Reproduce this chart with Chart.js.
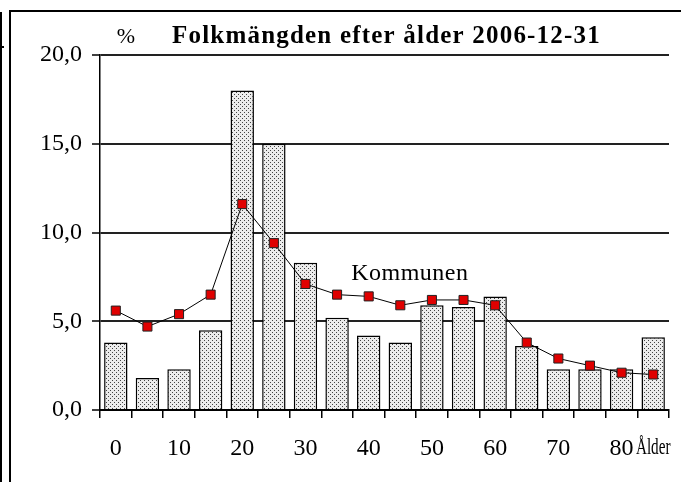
<!DOCTYPE html>
<html>
<head>
<meta charset="utf-8">
<script src="https://cdn.jsdelivr.net/npm/chart.js@4.4.1/dist/chart.umd.min.js"></script>
<style>
  html, body { margin: 0; padding: 0; background: #fff; }
  #wrap { position: relative; width: 681px; height: 482px; overflow: hidden; }
  #frame { position: absolute; left: 9px; top: 10px; width: 700px; height: 500px; border-left: 2px solid #000; border-top: 2px solid #000; }
  #edge { position: absolute; left: 0; top: 12px; width: 2px; height: 470px; background: #000; }
  #stub { position: absolute; left: 0; top: 46px; width: 4px; height: 2px; background: #000; }
  canvas { position: absolute; left: 0; top: 0; }
</style>
</head>
<body>
<div id="wrap">
  <div id="edge"></div>
  <div id="stub"></div>
  <div id="frame"></div>
  <canvas id="myChart" width="681" height="482"></canvas>
</div>
<script>
const ages = ["0", "5", "10", "15", "20", "25", "30", "35", "40", "45", "50", "55", "60", "65", "70", "75", "80", "85"];
const xTickLabels = ["0", "", "10", "", "20", "", "30", "", "40", "", "50", "", "60", "", "70", "", "80", ""];
const yTickLabels = ["0,0", "5,0", "10,0", "15,0", "20,0"];
// bars (riket) and line (kommunen), percent per 5-year age group
const riket = [3.8, 1.8, 2.3, 4.5, 18.0, 15.0, 8.3, 5.2, 4.2, 3.8, 5.9, 5.8, 6.4, 3.6, 2.3, 2.3, 2.3, 4.1];
const kommunen = [5.6, 4.7, 5.4, 6.5, 11.6, 9.4, 7.1, 6.5, 6.4, 5.9, 6.2, 6.2, 5.9, 3.8, 2.9, 2.5, 2.1, 2.0];
const title = "Folkmängden efter ålder 2006-12-31";
const unitLabel = "%";
const lastAxisLabel = "Ålder";

const serif = '"Liberation Serif", "Times New Roman", serif';

function dotPattern() {
  const c = document.createElement('canvas');
  c.width = 4; c.height = 4;
  const g = c.getContext('2d');
  g.fillStyle = '#ececec';
  g.fillRect(0, 0, 4, 4);
  g.fillStyle = '#444';
  g.fillRect(0, 0, 1, 1);
  g.fillRect(2, 2, 1, 1);
  return g.createPattern(c, 'repeat');
}

const texts = {
  id: 'texts',
  afterDraw(chart) {
    const g = chart.ctx, xs = chart.scales.x, ys = chart.scales.y;
    g.save();
    g.fillStyle = '#000';
    g.textBaseline = 'alphabetic';
    g.textAlign = 'center';
    g.font = '22px ' + serif;
    g.fillText(unitLabel, 126, 43);
    g.textAlign = 'left';
    g.font = 'bold 25px ' + serif;
    g.letterSpacing = '1.2px';
    g.fillText(title, 172, 43);
    g.letterSpacing = '0.5px';
    g.textAlign = 'center';
    g.font = '24px ' + serif;
    g.fillText(chart.data.datasets[0].label, xs.getPixelForValue(9.3), ys.getPixelForValue(7.3));
    g.letterSpacing = '0px';
    g.translate(xs.getPixelForValue(17), 454);
    g.scale(0.66, 1);
    g.font = '23px ' + serif;
    g.fillText(lastAxisLabel, 0, 0);
    g.restore();
  }
};

const ctx = document.querySelector("#myChart");

new Chart(ctx, {
  data: {
    labels: ages,
    datasets: [{
      type: 'line',
      label: 'Kommunen',
      data: kommunen,
      borderColor: '#000',
      borderWidth: 1,
      tension: 0,
      pointStyle: 'rect',
      pointRadius: 6.4,
      pointBackgroundColor: '#e00000',
      pointBorderColor: '#222',
      pointBorderWidth: 1,
      order: 0
    }, {
      type: 'bar',
      label: 'Riket',
      data: riket,
      backgroundColor: dotPattern(),
      borderColor: '#000',
      borderWidth: 1.5,
      barPercentage: 0.74,
      categoryPercentage: 1,
      order: 1
    }]
  },
  options: {
    responsive: false,
    animation: false,
    devicePixelRatio: 1,
    layout: { padding: { top: 55, right: 12, left: 0, bottom: 0 } },
    plugins: {
      legend: { display: false },
      title: { display: false },
      tooltip: { enabled: false }
    },
    scales: {
      x: {
        grid: { offset: true, drawOnChartArea: false, drawTicks: true, tickLength: 8, color: '#000', lineWidth: 1.5 },
        border: { color: '#000', width: 2 },
        ticks: {
          autoSkip: false, maxRotation: 0, color: '#000', padding: 16,
          font: { family: serif, size: 24 },
          callback: (v, i) => xTickLabels[i]
        },
        afterFit: s => { s.height = 72; }
      },
      y: {
        min: 0, max: 20,
        ticks: {
          stepSize: 5, color: '#000', padding: 10,
          font: { family: serif, size: 24 },
          callback: (v, i) => yTickLabels[i]
        },
        grid: { color: '#222', lineWidth: 2, tickColor: '#000', tickWidth: 1.5, tickLength: 8 },
        border: { color: '#000', width: 1.5 },
        afterFit: s => { s.width = 100; }
      }
    }
  },
  plugins: [texts]
});
</script>
</body>
</html>
